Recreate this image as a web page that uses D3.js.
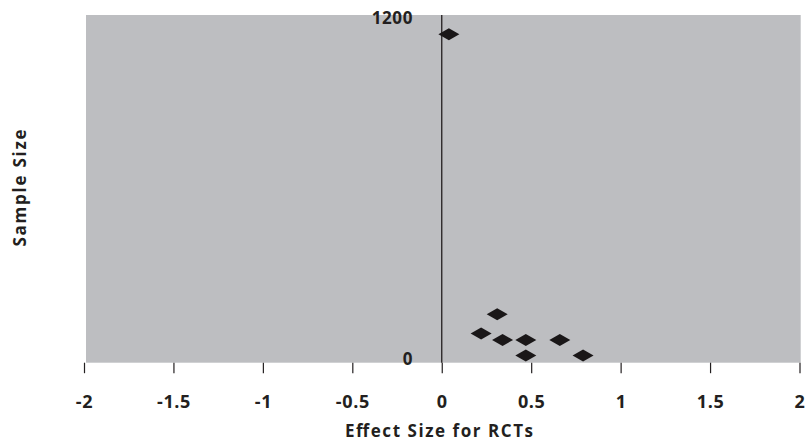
<!DOCTYPE html>
<html><head><meta charset="utf-8">
<script src="https://cdn.jsdelivr.net/npm/d3@7"></script>
<style>body{margin:0;background:#fff}svg{display:block}</style>
</head><body>
<script>
const effectSize = [0.04, 0.31, 0.22, 0.34, 0.47, 0.66, 0.47, 0.79];
const sampleSize = [1155, 170, 103, 80, 80, 80, 25, 25];
const xTicks = [-2, -1.5, -1, -0.5, 0, 0.5, 1, 1.5, 2];
const yTicks = [0, 1200];

const W = 808, H = 443;
const svg = d3.select("body").append("svg").attr("width", W).attr("height", H);
const plot = {left: 86, right: 800.7, top: 15, bottom: 362.7};
const x = d3.scaleLinear().domain([-2, 2]).range([84, 799.5]);
const y = d3.scaleLinear().domain([0, 1200]).range([plot.bottom, 21.5]);
const ink = "#231f20";
const font = "'Open Sans', sans-serif";

svg.append("rect").attr("x", plot.left).attr("y", plot.top)
  .attr("width", plot.right - plot.left).attr("height", plot.bottom - plot.top)
  .attr("fill", "#bdbec1");

// x ticks
const xAxis = svg.append("g").attr("transform", `translate(0,${plot.bottom})`)
  .call(d3.axisBottom(x).tickValues(xTicks).tickSize(10.5).tickPadding(22).tickFormat(d => String(d)));
xAxis.select(".domain").remove();
xAxis.selectAll("line").attr("stroke", ink).attr("stroke-width", 1.2);
xAxis.selectAll("text").attr("fill", ink)
  .style("font-family", font).style("font-weight", "700").style("font-size", "18px")
  .attr("letter-spacing", "0.6");

// vertical zero axis
svg.append("line").attr("x1", x(0)).attr("x2", x(0)).attr("y1", plot.top).attr("y2", plot.bottom)
  .attr("stroke", ink).attr("stroke-width", 1.3);

// y tick labels
svg.append("g").selectAll("text").data(yTicks).join("text")
  .attr("x", 413).attr("y", d => y(d) - 3.5).attr("dy", "0.35em")
  .attr("text-anchor", "end").attr("fill", ink)
  .style("font-family", font).style("font-weight", "700").style("font-size", "17px")
  .attr("letter-spacing", "0.6")
  .text(d => d);

// diamonds
svg.append("g").selectAll("path").data(effectSize.map((e, i) => [e, sampleSize[i]])).join("path")
  .attr("transform", d => `translate(${x(d[0])},${y(d[1])})`)
  .attr("d", "M-10.5,0L0,-6L10.5,0L0,6Z").attr("fill", "#1a1718");

// axis titles
svg.append("text").attr("x", 439).attr("y", 436.5).attr("text-anchor", "middle").attr("fill", ink)
  .style("font-family", font).style("font-weight", "700").style("font-size", "17px")
  .attr("textLength", 188).attr("lengthAdjust", "spacing")
  .text("Effect Size for RCTs");
svg.append("text").attr("transform", "translate(26,188) rotate(-90)").attr("text-anchor", "middle").attr("fill", ink)
  .style("font-family", font).style("font-weight", "700").style("font-size", "17px")
  .attr("textLength", 117).attr("lengthAdjust", "spacing")
  .text("Sample Size");
</script>
</body></html>
